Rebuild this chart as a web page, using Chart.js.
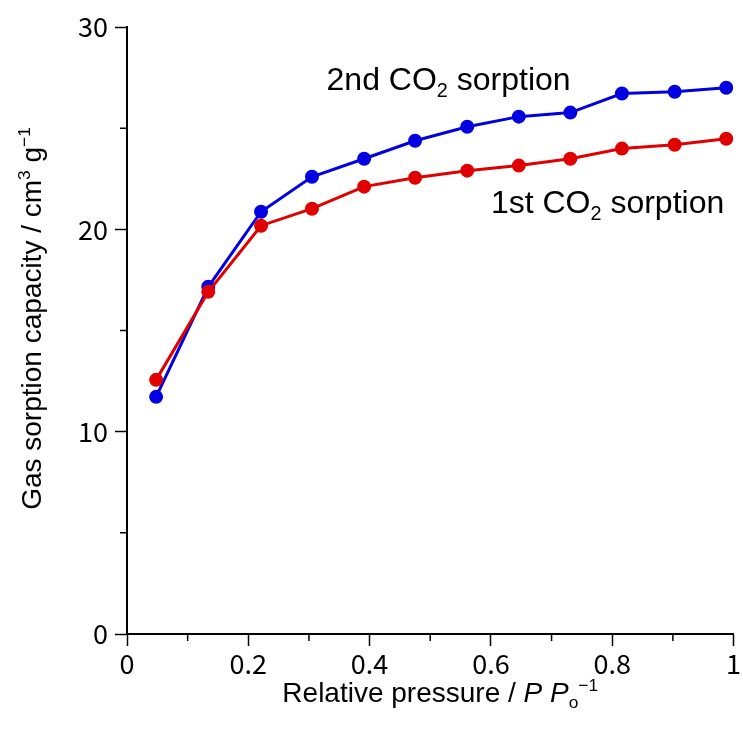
<!DOCTYPE html>
<html>
<head>
<meta charset="utf-8">
<script src="https://cdn.jsdelivr.net/npm/chart.js@4/dist/chart.umd.min.js"></script>
<style>
  body { margin: 0; background: #fff; }
  canvas { display: block; }
</style>
</head>
<body>
<canvas id="myChart" width="743" height="740"></canvas>
<script>
//Data
const pressure = [0.048, 0.134, 0.221, 0.305, 0.391, 0.475, 0.561, 0.646, 0.731, 0.816, 0.903, 0.988];
const firstSorption = [12.56, 16.91, 20.18, 21.02, 22.11, 22.55, 22.9, 23.15, 23.49, 23.99, 24.18, 24.48];
const secondSorption = [11.72, 17.16, 20.87, 22.6, 23.49, 24.38, 25.07, 25.57, 25.77, 26.71, 26.8, 27.0];
const xTickLabels = ['0', '0.2', '0.4', '0.6', '0.8', '1'];
const yTickLabels = ['0', '10', '20', '30'];

const red = '#e00000';
const blue = '#0000e0';
const textFont = '"Liberation Sans", Arial, sans-serif';
const tickFont = '"Noto Sans CJK JP", "Noto Sans", sans-serif';

//text with sub / superscripts, drawn on the canvas
const drawRich = (ctx, segs, x, y, size, align) => {
    const parts = segs.map(s => {
        const fs = s.sub || s.sup ? size * 0.62 : size;
        const font = (s.italic ? 'italic ' : '') + fs + 'px ' + textFont;
        ctx.font = font;
        return { t: s.t, font: font, w: ctx.measureText(s.t).width, dy: s.sub ? size * 0.22 : (s.sup ? -size * 0.4 : 0) };
    });
    const total = parts.reduce((a, p) => a + p.w, 0);
    let cx = align === 'center' ? x - total / 2 : x;
    ctx.textAlign = 'left';
    ctx.textBaseline = 'alphabetic';
    for (const p of parts) {
        ctx.font = p.font;
        ctx.fillText(p.t, cx, y + p.dy);
        cx += p.w;
    }
};

const xTitle = [{ t: 'Relative pressure / ' }, { t: 'P', italic: true }, { t: ' ' }, { t: 'P', italic: true }, { t: 'o', sub: true }, { t: '\u22121', sup: true }];
const yTitle = [{ t: 'Gas sorption capacity / cm' }, { t: '3', sup: true }, { t: ' g' }, { t: '\u22121', sup: true }];
const label2nd = [{ t: '2nd CO' }, { t: '2', sub: true }, { t: ' sorption' }];
const label1st = [{ t: '1st CO' }, { t: '2', sub: true }, { t: ' sorption' }];

const isMajor = (v, step) => Math.abs(Math.round(v / step) * step - v) < 1e-6;

const extrasPlugin = {
    id: 'extras',
    afterDraw: (chart) => {
        const ctx = chart.ctx;
        const x = chart.scales.x;
        const y = chart.scales.y;
        const area = chart.chartArea;
        ctx.save();
        //minor ticks
        ctx.strokeStyle = '#000';
        ctx.lineWidth = 1.5;
        ctx.beginPath();
        for (const t of x.ticks) {
            if (isMajor(t.value, 0.2)) continue;
            const px = x.getPixelForValue(t.value);
            ctx.moveTo(px, area.bottom);
            ctx.lineTo(px, area.bottom + 7);
        }
        for (const t of y.ticks) {
            if (isMajor(t.value, 10)) continue;
            const py = y.getPixelForValue(t.value);
            ctx.moveTo(area.left, py);
            ctx.lineTo(area.left - 7, py);
        }
        ctx.stroke();
        //axis titles
        ctx.fillStyle = '#000';
        drawRich(ctx, xTitle, (area.left + area.right) / 2 + 10, 702, 28, 'center');
        ctx.save();
        ctx.translate(41, (area.top + area.bottom) / 2 - 12);
        ctx.rotate(-Math.PI / 2);
        drawRich(ctx, yTitle, 0, 0, 28, 'center');
        ctx.restore();
        //curve labels
        drawRich(ctx, label2nd, x.getPixelForValue(0.329), y.getPixelForValue(26.9), 32, 'left');
        drawRich(ctx, label1st, x.getPixelForValue(0.6), y.getPixelForValue(20.82), 32, 'left');
        ctx.restore();
    }
};

const tickColor = (step) => (c) => (c.tick && isMajor(c.tick.value, step)) ? '#000' : 'rgba(0,0,0,0)';

let ctx = document.getElementById('myChart').getContext('2d');
let myChart = new Chart(ctx, {
    type: 'line',
    data: {
        datasets: [{
            label: '1st CO2 sorption',
            data: pressure.map((p, i) => ({ x: p, y: firstSorption[i] })),
            borderColor: red,
            backgroundColor: red,
            borderWidth: 3,
            pointRadius: 5.5,
            pointHoverRadius: 5.5
        }, {
            label: '2nd CO2 sorption',
            data: pressure.map((p, i) => ({ x: p, y: secondSorption[i] })),
            borderColor: blue,
            backgroundColor: blue,
            borderWidth: 3,
            pointRadius: 5.5,
            pointHoverRadius: 5.5
        }]
    },
    options: {
        responsive: false,
        animation: false,
        layout: { padding: { top: 27, right: 7, left: 0, bottom: 0 } },
        plugins: { legend: { display: false }, tooltip: { enabled: false } },
        scales: {
            x: {
                type: 'linear',
                min: 0,
                max: 1,
                afterFit: (s) => { s.height = 106; },
                border: { color: '#000', width: 2 },
                grid: { drawOnChartArea: false, tickLength: 12, tickWidth: 1.5, tickColor: tickColor(0.2) },
                ticks: {
                    stepSize: 0.1,
                    padding: 2,
                    color: '#000',
                    font: { family: tickFont, size: 27 },
                    callback: (v) => isMajor(v, 0.2) ? xTickLabels[Math.round(v / 0.2)] : ''
                }
            },
            y: {
                min: 0,
                max: 30,
                afterFit: (s) => { s.width = 127; },
                border: { color: '#000', width: 2 },
                grid: { drawOnChartArea: false, tickLength: 12, tickWidth: 1.5, tickColor: tickColor(10) },
                ticks: {
                    stepSize: 5,
                    padding: 7,
                    color: '#000',
                    font: { family: tickFont, size: 27 },
                    callback: (v) => isMajor(v, 10) ? yTickLabels[Math.round(v / 10)] : ''
                }
            }
        }
    },
    plugins: [extrasPlugin]
});
</script>
</body>
</html>
